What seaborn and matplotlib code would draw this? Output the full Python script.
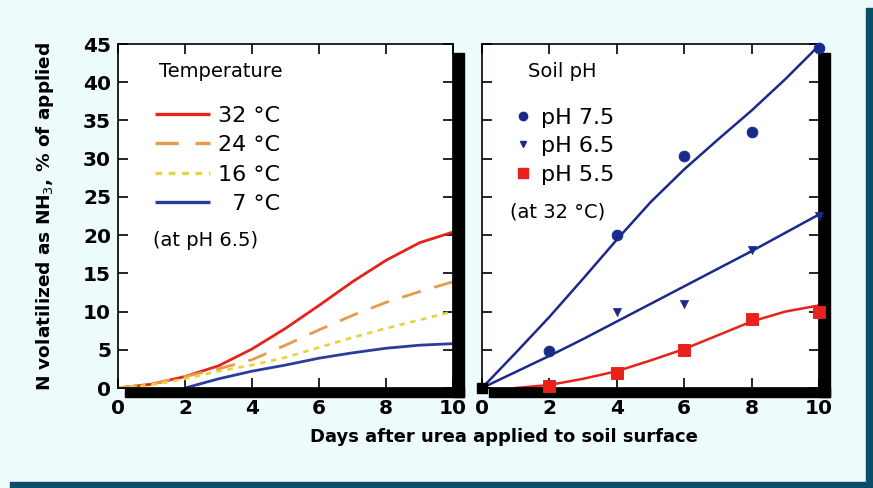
import matplotlib
matplotlib.use("Agg")
import matplotlib.pyplot as plt
from matplotlib.patches import Rectangle
from matplotlib.lines import Line2D
import seaborn as sns
import pandas as pd

# Data - left panel (curves, % N volatilized by day)
days = [0, 1, 2, 3, 4, 5, 6, 7, 8, 9, 10]
temp_labels = ['32 °C', '24 °C', '16 °C', '  7 °C']
t32 = [0, 0.5, 1.5, 2.9, 5.1, 7.8, 10.8, 13.9, 16.7, 19.0, 20.4]
t24 = [0, 0.5, 1.5, 2.5, 3.7, 5.6, 7.6, 9.5, 11.2, 12.6, 13.9]
t16 = [0, 0.4, 1.2, 2.2, 3.0, 4.0, 5.3, 6.6, 7.8, 8.9, 10.0]
t7 = [None, None, 0, 1.2, 2.2, 3.0, 3.9, 4.6, 5.2, 5.6, 5.8]

# Data - right panel (measured points and fitted curves)
pt_days = [2, 4, 6, 8, 10]
ph75_pts = [4.8, 20.0, 30.3, 33.5, 44.5]
ph65_pts = [None, 10.0, 11.0, 18.0, 22.5]
ph55_pts = [0.2, 2.0, 5.0, 9.0, 10.0]
ph75_fit = [0, 4.6, 9.3, 14.3, 19.4, 24.3, 28.6, 32.5, 36.3, 40.4, 44.8]
ph65_fit = [0, 2.1, 4.2, 6.4, 8.7, 11.0, 13.3, 15.6, 17.9, 20.3, 22.7]
ph55_fit = [None, 0, 0.4, 1.2, 2.2, 3.6, 5.1, 6.9, 8.7, 10.0, 10.8]
ph_labels = ['pH 7.5', 'pH 6.5', 'pH 5.5']

W, H = 873, 488
plt.rcParams['font.family'] = ['DejaVu Sans']
fig = plt.figure(figsize=(W / 100, H / 100), dpi=100)
fig.patch.set_facecolor('#eefbfd')

# dark frame on right and bottom
fig.patches.append(Rectangle((866 / W, 0), 7 / W, 480 / H, transform=fig.transFigure,
                             color='#0d4d6c', zorder=0))
fig.patches.append(Rectangle((10 / W, 0), 863 / W, 6 / H, transform=fig.transFigure,
                             color='#0d4d6c', zorder=0))

ax1 = fig.add_axes([118 / W, 100 / H, 335 / W, 344 / H])
ax2 = fig.add_axes([482 / W, 100 / H, 337 / W, 344 / H])


def style_axes(ax, ylabels=True):
    ax.set_xlim(0, 10)
    ax.set_ylim(0, 45)
    ax.set_xticks(range(0, 11, 2))
    ax.set_yticks(range(0, 46, 5))
    ax.tick_params(direction='in', length=7, width=1.2, top=True, right=True,
                   labelsize=14.5, colors='black')
    ax.tick_params(axis='x', pad=8)
    ax.tick_params(axis='y', pad=5)
    for lab in ax.get_xticklabels() + ax.get_yticklabels():
        lab.set_fontweight('bold')
    if not ylabels:
        ax.set_yticklabels([])
    for s in ax.spines.values():
        s.set_linewidth(1.2)
    ax.set_xlabel('')
    ax.set_ylabel('')
    # drop shadow
    ax.add_patch(Rectangle((1.0, -0.026), 0.033, 1.0, transform=ax.transAxes,
                           color='black', clip_on=False, zorder=0))
    ax.add_patch(Rectangle((0.02, -0.026), 1.013, 0.026, transform=ax.transAxes,
                           color='black', clip_on=False, zorder=0))


# Left panel
colors_t = ['#e5231b', '#e79a4e', '#e8d440', '#2b3d9c']
styles_t = [(0, ()), (0, (7, 5)), (0, (2, 2)), (0, ())]
for vals, c, ls in zip([t32, t24, t16, t7], colors_t, styles_t):
    df = pd.DataFrame({'day': days, 'N': vals}).dropna()
    sns.lineplot(data=df, x='day', y='N', ax=ax1, color=c, linestyle=ls, lw=2,
                 legend=False)
style_axes(ax1)
h1 = [Line2D([], [], color=c, ls=ls, lw=2.4) for c, ls in zip(colors_t, styles_t)]
ax1.legend(h1, temp_labels, loc='upper left', bbox_to_anchor=(0.11, 0.82),
           borderaxespad=0, borderpad=0, frameon=False, fontsize=16,
           handlelength=2.5, handletextpad=0.35, labelspacing=0.42)
ax1.text(0.307, 0.919, 'Temperature', transform=ax1.transAxes, fontsize=14,
         ha='center', va='center')
ax1.text(0.26, 0.43, '(at pH 6.5)', transform=ax1.transAxes, fontsize=14,
         ha='center', va='center')

# Right panel
blue = '#1b2a8a'
red = '#e8221a'
for fit, c in zip([ph75_fit, ph65_fit, ph55_fit], [blue, blue, red]):
    df = pd.DataFrame({'day': days, 'N': fit}).dropna()
    sns.lineplot(data=df, x='day', y='N', ax=ax2, color=c, lw=1.8)
markers = ['o', 'v', 's']
pcolors = [blue, blue, red]
msizes = [60, 35, 70]
for pts, m, c, s in zip([ph75_pts, ph65_pts, ph55_pts], markers, pcolors, msizes):
    df = pd.DataFrame({'day': pt_days, 'N': pts}).dropna()
    sns.scatterplot(data=df, x='day', y='N', ax=ax2, marker=m, color=c, s=s,
                    edgecolor=c, zorder=5, clip_on=False)
ax2.scatter([0], [0], marker='s', color='black', s=60, zorder=6, clip_on=False)
style_axes(ax2, ylabels=False)
h2 = [Line2D([], [], marker=m, color=c, ls='', ms=ms)
      for m, c, ms in zip(markers, pcolors, [6, 4.5, 7])]
ax2.legend(h2, ph_labels, loc='upper left', bbox_to_anchor=(0.089, 0.815),
           borderaxespad=0, borderpad=0, frameon=False, fontsize=16,
           handlelength=1.0, handletextpad=0.3, labelspacing=0.38)
ax2.text(0.237, 0.919, 'Soil pH', transform=ax2.transAxes, fontsize=14,
         ha='center', va='center')
ax2.text(0.225, 0.512, '(at 32 °C)', transform=ax2.transAxes, fontsize=14,
         ha='center', va='center')

fig.text(45 / W, 1 - 216 / H, 'N volatilized as NH$_3$, % of applied', rotation=90,
         ha='center', va='center', fontsize=13.3, fontweight='bold')
fig.text(504 / W, 1 - 437 / H, 'Days after urea applied to soil surface',
         ha='center', va='center', fontsize=13, fontweight='bold')

fig.savefig('out.png', dpi=100, facecolor=fig.get_facecolor())
